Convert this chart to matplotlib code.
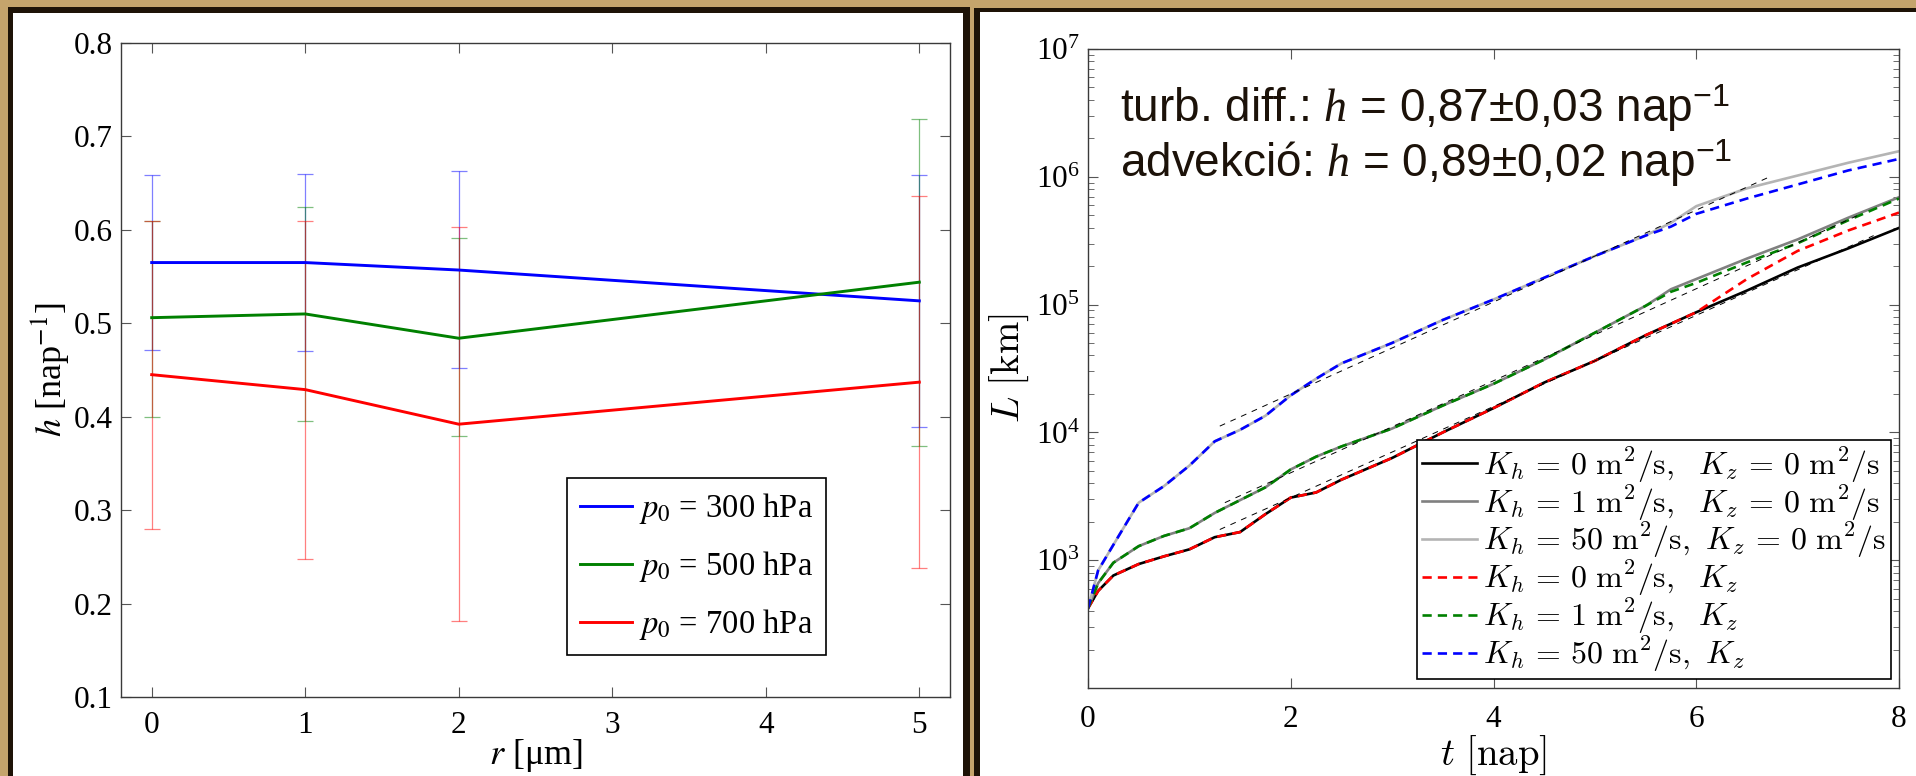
import numpy as np
import matplotlib.pyplot as plt
from matplotlib.patches import Rectangle

plt.rcParams['font.family'] = ['Liberation Serif', 'DejaVu Serif']
plt.rcParams['mathtext.fontset'] = 'stix'
# a "custom" készlet csak a felirathoz kell (sans szöveg, serif dőlt h)
plt.rcParams['mathtext.rm'] = 'Liberation Sans'
plt.rcParams['mathtext.it'] = 'Liberation Serif:italic'

# --- bal panel: h(r) különböző kezdeti nyomásszinteken ---
r = [0, 1, 2, 5]
h_300 = [0.565, 0.565, 0.557, 0.524]
h_300_lo = [0.471, 0.470, 0.452, 0.389]
h_300_hi = [0.659, 0.660, 0.663, 0.659]
h_500 = [0.506, 0.510, 0.484, 0.544]
h_500_lo = [0.400, 0.395, 0.379, 0.369]
h_500_hi = [0.610, 0.624, 0.591, 0.719]
h_700 = [0.445, 0.429, 0.392, 0.437]
h_700_lo = [0.280, 0.248, 0.181, 0.238]
h_700_hi = [0.610, 0.609, 0.603, 0.636]
p0_labels = ['300', '500', '700']

# --- jobb panel: L(t) [km] ---
t = [0, 0.1, 0.25, 0.5, 0.75, 1.0, 1.25, 1.5, 1.75, 2.0, 2.25, 2.5,
     3.0, 3.5, 4.0, 4.5, 5.0, 5.5, 5.75, 6.0, 6.5, 7.0, 7.5, 8.0]
L_k0 = [420, 575, 759, 933, 1072, 1216, 1514, 1660, 2291, 3090, 3388, 4266,
        6310, 10000, 15490, 24550, 36310, 57540, 70790, 87100, 128800, 195000,
        275400, 398100]
L_k1 = [420, 661, 955, 1288, 1549, 1778, 2344, 2951, 3715, 5129, 6457, 7762,
        10720, 16220, 23990, 37150, 60260, 97720, 131800, 158500, 229100,
        323600, 478600, 691800]
L_k50 = [420, 832, 1318, 2818, 3802, 5495, 8511, 10470, 13490, 19500, 26300,
         34670, 50120, 75860, 109600, 162200, 239900, 346700, 436500, 588800,
         812800, 1023000, 1288000, 1585000]
L_k0_kz = [420, 575, 759, 933, 1072, 1216, 1514, 1660, 2291, 3090, 3388, 4266,
           6310, 10000, 15490, 24550, 36310, 57540, 70790, 87100, 158500,
           263000, 380200, 524800]
L_k1_kz = [420, 661, 955, 1288, 1549, 1778, 2344, 2951, 3715, 5129, 6457, 7762,
           10720, 16220, 23990, 37150, 60260, 97720, 125900, 147900, 213800,
           302000, 457100, 676100]
L_k50_kz = [420, 832, 1318, 2818, 3802, 5495, 8511, 10470, 13490, 19500, 26300,
            34670, 50120, 75860, 109600, 162200, 239900, 346700, 407400, 512900,
            676100, 871000, 1122000, 1380000]

# exponenciális illesztések végpontjai
fit_t_lo, fit_L_lo = [1.3, 7.75], [1738, 346700]
fit_t_mid, fit_L_mid = [1.35, 7.6], [2820, 501200]
fit_t_up, fit_L_up = [1.3, 6.7], [11200, 980000]

W, H = 1916, 776
tan = '#c5a46c'
dark = '#1e1307'

fig = plt.figure(figsize=(W / 100, H / 100), dpi=100, facecolor=tan)


def box(x0, y0, x1, y1, color):
    fig.add_artist(Rectangle((x0 / W, 1 - y1 / H), (x1 - x0) / W, (y1 - y0) / H,
                             transform=fig.transFigure, color=color, lw=0,
                             zorder=-10))


box(8, 7, 970, H, dark)
box(13, 13, 963, H, 'white')
box(974, 8, W, H, dark)
box(980, 12, W, H, 'white')


def axes_px(x0, y0, x1, y1):
    return fig.add_axes([x0 / W, 1 - y1 / H, (x1 - x0) / W, (y1 - y0) / H])


def style(ax):
    for s in ax.spines.values():
        s.set_color('#3a3a3a')
        s.set_linewidth(1.0)
    ax.tick_params(which='both', direction='in', top=True, right=True,
                   color='#555555', labelsize=22.5)
    ax.tick_params(which='major', length=7, width=0.8)
    ax.tick_params(which='minor', length=4, width=0.6)


# bal panel
ax1 = axes_px(121, 43, 950, 697)
style(ax1)
ax1.tick_params(axis='x', pad=10)
ax1.tick_params(axis='y', pad=6)

series = [(h_300, h_300_lo, h_300_hi, '#0000ff'),
          (h_500, h_500_lo, h_500_hi, '#008000'),
          (h_700, h_700_lo, h_700_hi, '#ff0000')]
lines = []
for (h, lo, hi, c), p in zip(series, p0_labels):
    h = np.array(h)
    yerr = [h - np.array(lo), np.array(hi) - h]
    ax1.errorbar(r, h, yerr=yerr, fmt='none', ecolor=c, elinewidth=0.9,
                 capsize=6, capthick=0.9, alpha=0.5)
for (h, lo, hi, c), p in zip(series, p0_labels):
    ln, = ax1.plot(r, h, color=c, lw=2.1, label=r'$p_0$ = ' + p + ' hPa')
    lines.append(ln)

ax1.set_xlim(-0.2, 5.2)
ax1.set_ylim(0.1, 0.8)
ax1.set_xticks([0, 1, 2, 3, 4, 5])
ax1.set_yticks(np.arange(0.1, 0.81, 0.1))
ax1.yaxis.set_major_formatter(plt.FormatStrFormatter('%.1f'))
ax1.set_ylabel(r'$h$ [nap$^{-1}$]', fontsize=26, va='center')
ax1.yaxis.set_label_coords(-0.086, 0.5)
ax1.set_xlabel(r'$r$ [μm]', fontsize=26, va='center')
ax1.xaxis.set_label_coords(0.5, -0.089)

leg1 = ax1.legend(handles=lines, loc='lower left', bbox_to_anchor=(0.538, 0.064),
                  borderaxespad=0, fontsize=23.5, handlelength=1.6,
                  handletextpad=0.2, labelspacing=0.7, borderpad=0.4,
                  fancybox=False, framealpha=1, edgecolor='black')
leg1.get_frame().set_linewidth(1.2)

# jobb panel
ax2 = axes_px(1088, 49, 1899, 688)
ax2.set_yscale('log')
style(ax2)
ax2.tick_params(axis='x', pad=12)
ax2.tick_params(axis='y', pad=6)

lw = 1.9
dash = (3.5, 2.3)
ax2.plot(t, L_k0, color='black', lw=lw,
         label=r'$K_h\,=\,0\ \mathrm{m}^2/\mathrm{s},\ \ K_z\,=\,0\ \mathrm{m}^2/\mathrm{s}$')
ax2.plot(t, L_k1, color='#808080', lw=lw,
         label=r'$K_h\,=\,1\ \mathrm{m}^2/\mathrm{s},\ \ K_z\,=\,0\ \mathrm{m}^2/\mathrm{s}$')
ax2.plot(t, L_k50, color='#b4b4b4', lw=lw,
         label=r'$K_h\,=\,50\ \mathrm{m}^2/\mathrm{s},\ K_z\,=\,0\ \mathrm{m}^2/\mathrm{s}$')
ax2.plot(t, L_k0_kz, color='#ff0000', lw=lw, dashes=dash,
         label=r'$K_h\,=\,0\ \mathrm{m}^2/\mathrm{s},\ \ K_z$')
ax2.plot(t, L_k1_kz, color='#008000', lw=lw, dashes=dash,
         label=r'$K_h\,=\,1\ \mathrm{m}^2/\mathrm{s},\ \ K_z$')
ax2.plot(t, L_k50_kz, color='#0000ff', lw=lw, dashes=dash,
         label=r'$K_h\,=\,50\ \mathrm{m}^2/\mathrm{s},\ K_z$')
for ft, fl in [(fit_t_lo, fit_L_lo), (fit_t_mid, fit_L_mid), (fit_t_up, fit_L_up)]:
    ax2.plot(ft, fl, color='black', lw=0.7, dashes=(6, 6))

ax2.set_xlim(0, 8)
ax2.set_ylim(1e2, 1e7)
ax2.set_xticks([0, 2, 4, 6, 8])
ax2.set_yticks([1e3, 1e4, 1e5, 1e6, 1e7])
ax2.set_ylabel(r'$L\ [\mathrm{km}]$', fontsize=28, math_fontfamily='cm',
               va='center')
ax2.yaxis.set_label_coords(-0.097, 0.5)
ax2.set_xlabel(r'$t\ [\mathrm{nap}]$', fontsize=28, math_fontfamily='cm',
               va='center')
ax2.xaxis.set_label_coords(0.5, -0.105)

leg2 = ax2.legend(loc='lower right', bbox_to_anchor=(0.990, 0.014),
                  borderaxespad=0, handlelength=1.7, handletextpad=0.2,
                  labelspacing=-0.05, borderpad=0.15, fancybox=False,
                  framealpha=1, edgecolor='black',
                  prop={'size': 23, 'math_fontfamily': 'cm'})
leg2.get_frame().set_linewidth(1.2)

txt = dict(transform=ax2.transAxes, family='Liberation Sans',
           math_fontfamily='custom', fontsize=33, color='#1c1209',
           ha='left', va='baseline')
ax2.text(0.0395, 0.886, r'turb. diff.: $h$ = 0,87±0,03 nap$^{-1}$', **txt)
ax2.text(0.0395, 0.800, r'advekció: $h$ = 0,89±0,02 nap$^{-1}$', **txt)

fig.savefig('out.png', dpi=100, facecolor=tan)
